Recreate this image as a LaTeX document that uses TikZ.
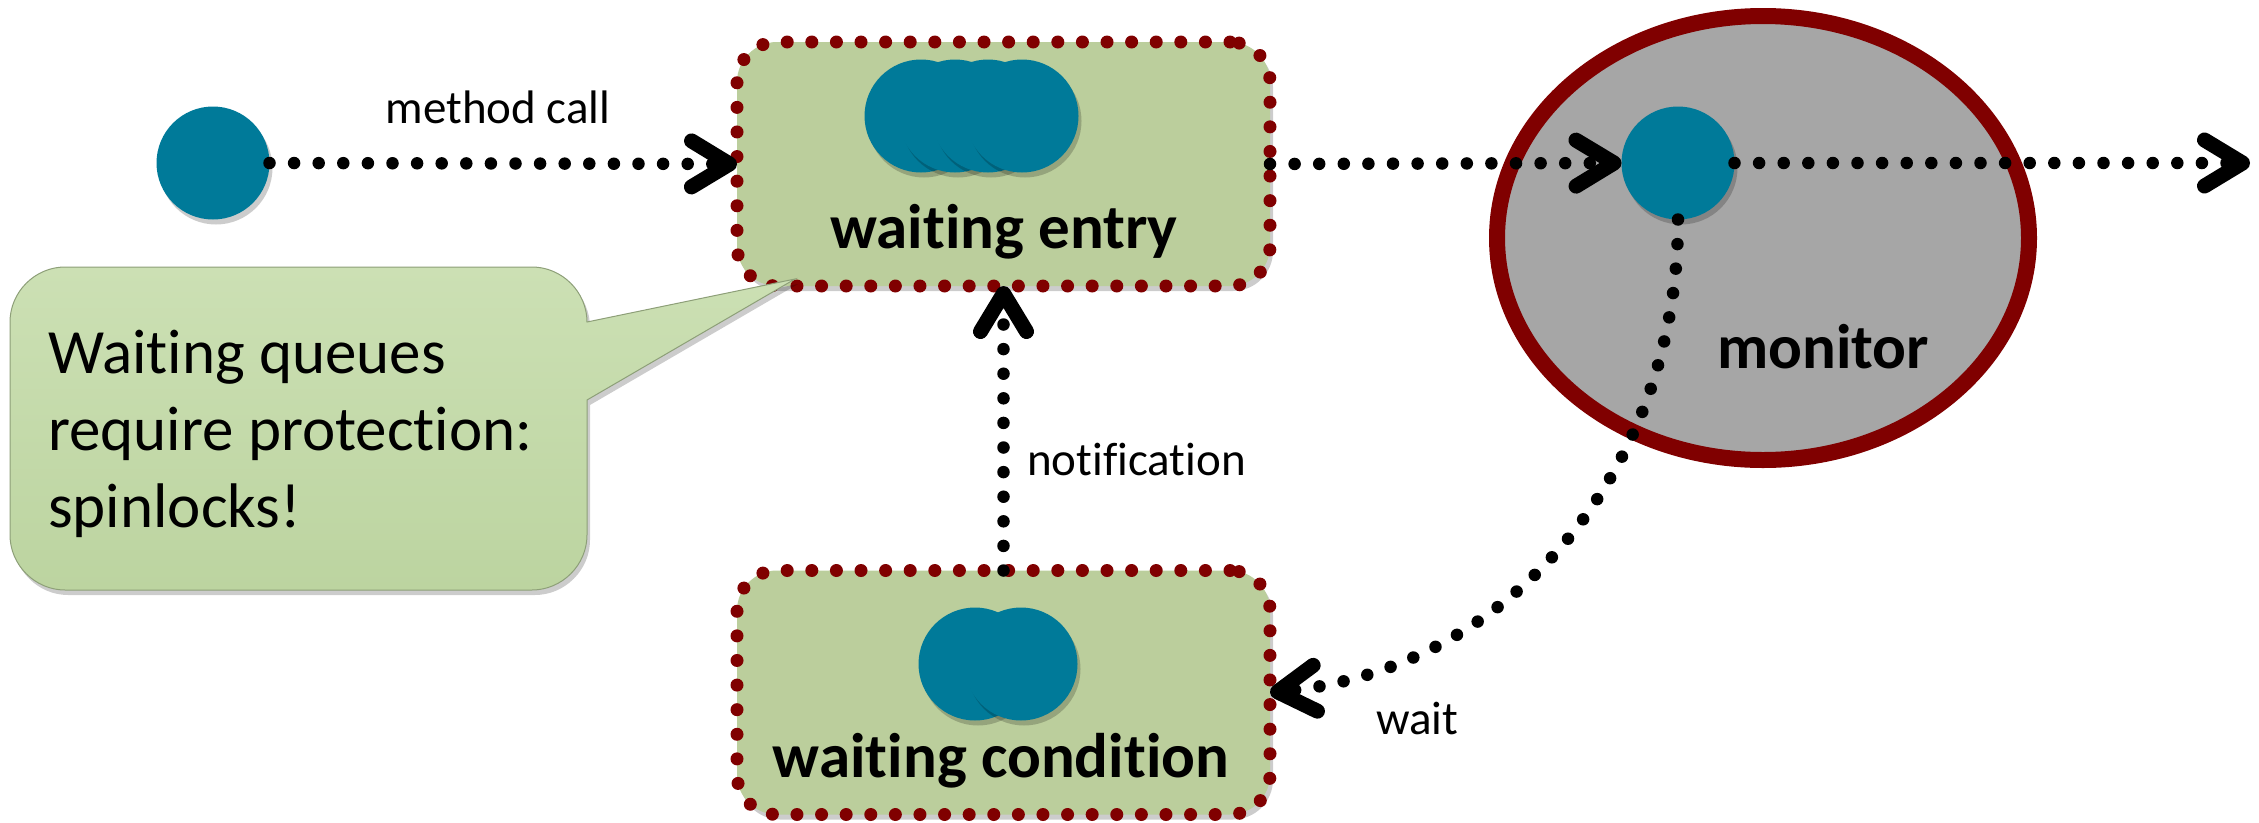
\documentclass[tikz,border=0pt]{standalone}
\usepackage{fontspec}
\setmainfont{Carlito}[Ligatures=NoCommon]
\usetikzlibrary{arrows.meta,shapes.geometric,shadows}
\definecolor{teal1}{RGB}{0,122,153}
\definecolor{boxgreen}{RGB}{187,206,156}
\definecolor{dred}{RGB}{128,0,0}
\definecolor{mgray}{RGB}{166,166,166}
\definecolor{callgreen}{RGB}{188,212,160}
\definecolor{calltop}{RGB}{204,224,180}
\tikzset{
  softshadow/.style={drop shadow={shadow xshift=3pt, shadow yshift=-5pt, opacity=0.2, fill=black}},
  ball/.style={circle, fill=teal1, minimum size=113pt, inner sep=0pt, outer sep=0pt, softshadow},
  queue/.style={rectangle, rounded corners=40pt, fill=boxgreen, draw=dred, line width=13pt,
     dash pattern=on 0pt off 24.6pt, line cap=round, minimum width=533pt, minimum height=244pt,
     inner sep=0pt, outer sep=0pt, softshadow},
  flow/.style={line width=12.5pt, dash pattern=on 0pt off 24.6pt, line cap=round,
     -{Straight Barb[length=38pt,width=46pt,line width=15pt,round]}},
  big/.style={font=\bfseries\fontsize{63}{77}\selectfont, anchor=base, inner sep=0pt},
  lab/.style={font=\fontsize{47}{56}\selectfont, inner sep=0pt},
  callout/.style={top color=calltop, bottom color=callgreen, draw=callgreen!75!black, line width=1pt, softshadow}
}
\begin{document}
\begin{tikzpicture}[x=1pt,y=-1pt]
\useasboundingbox (0,0) rectangle (2259,822);

% monitor
\node[ellipse, fill=mgray, draw=dred, line width=16pt, minimum width=532pt, minimum height=444pt,
      inner sep=0pt, outer sep=0pt, softshadow] (monitor) at (1763,238) {};
\node[big] (montext) at (1823,368) {monitor};

% queues
\node[queue] (entry) at (1003.5,164) {};
\node[ball] (e1) at (921,116) {};
\node[ball] (e2) at (955,116) {};
\node[ball] (e3) at (988,116) {};
\node[ball] (e4) at (1022,116) {};
\node[big] (entrytext) at (1004,248) {waiting entry};

\node[queue] (cond) at (1003.5,692.5) {};
\node[ball] (c1) at (975,664) {};
\node[ball] (c2) at (1021,664) {};
\node[big] (condtext) at (1001,777) {waiting condition};

% threads
\node[ball] (start) at (213,163) {};
\node[ball] (cur) at (1678,163) {};
\coordinate (out) at (2250,163);

% connectors
\draw[flow] (start.east) -- (entry.west);
\draw[flow] (entry.east) -- (cur.west);
\draw[flow] (cur.east) -- (out);
\draw[flow] (cond.north) -- (entry.south);
\draw[flow] (cur.south) .. controls (1678,470) and (1510,670) .. (cond.east);

% labels
\node[lab, anchor=base] (mc) at (498,123) {method call};
\node[lab, anchor=base west] (notif) at (1027,475) {notification};
\node[lab, anchor=base west] (waitlab) at (1376,734) {wait};

% callout
\path[callout] (65,267) -- (532,267) .. controls (562,267) and (587,292) .. (587,322)
   -- (795,279) -- (587,400) -- (587,535) .. controls (587,565) and (562,590) .. (532,590)
   -- (65,590) .. controls (35,590) and (10,565) .. (10,535)
   -- (10,322) .. controls (10,292) and (35,267) .. (65,267) -- cycle;
\node[font=\fontsize{63}{77}\selectfont, align=left, anchor=base west, inner sep=0pt] (calltext) at (48,527)
   {Waiting queues\\require protection:\\spinlocks!};
\end{tikzpicture}
\end{document}
